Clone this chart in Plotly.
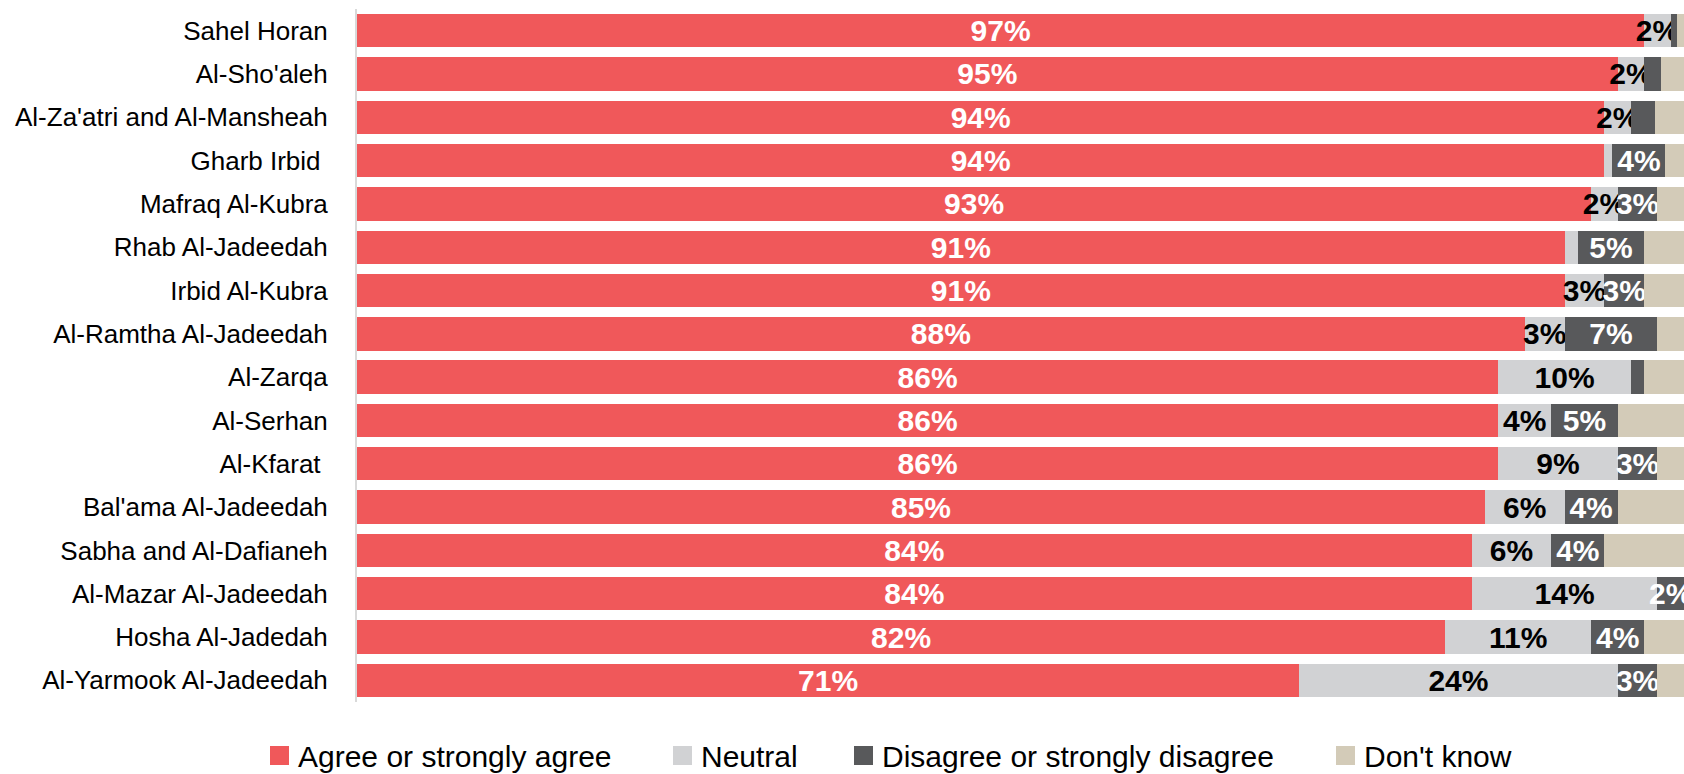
import plotly.graph_objects as go

# Survey results by municipality (percent of respondents)
municipalities = [
    "Sahel Horan", "Al-Sho'aleh", "Al-Za'atri and Al-Mansheah", "Gharb Irbid\u00a0",
    "Mafraq Al-Kubra", "Rhab Al-Jadeedah", "Irbid Al-Kubra", "Al-Ramtha Al-Jadeedah",
    "Al-Zarqa", "Al-Serhan", "Al-Kfarat\u00a0", "Bal'ama Al-Jadeedah",
    "Sabha and Al-Dafianeh", "Al-Mazar Al-Jadeedah", "Hosha Al-Jadedah",
    "Al-Yarmook Al-Jadeedah",
]
agree = [97, 95, 94, 94, 93, 91, 91, 88, 86, 86, 86, 85, 84, 84, 82, 71]
neutral = [2, 2, 2, 0.6, 2, 1, 3, 3, 10, 4, 9, 6, 6, 14, 11, 24]
disagree = [0.5, 1.3, 1.8, 4, 3, 5, 3, 7, 1, 5, 3, 4, 4, 2, 4, 3]
dont_know = [0.5, 1.7, 2.2, 1.4, 2, 3, 3, 2, 3, 5, 2, 5, 6, 0.7, 3, 2]

series_names = ["Agree or strongly agree", "Neutral",
                "Disagree or strongly disagree", "Don't know"]
series_values = [agree, neutral, disagree, dont_know]
series_colors = ["#F0585A", "#D1D2D4", "#58595B", "#D3CBB8"]
label_colors = ["white", "black", "white", "black"]
show_labels = [True, True, True, False]

FONT = "Liberation Sans, Arial, Helvetica, sans-serif"
W, H = 1684, 774
M_L, M_R, M_T, M_B = 357, 0, 9, 72


def label_text(values, show):
    if not show:
        return [""] * len(values)
    return [f"{v:.0f}%" if v >= 2 else "" for v in values]


fig = go.Figure()
for name, vals, color, tcolor, show in zip(series_names, series_values,
                                          series_colors, label_colors, show_labels):
    fig.add_trace(go.Bar(
        y=municipalities, x=vals, name=name, orientation="h",
        marker=dict(color=color, line=dict(width=0)),
        text=label_text(vals, show), textposition="inside",
        insidetextanchor="middle", constraintext="none", textangle=0,
        textfont=dict(family=FONT, size=30, color=tcolor, weight="bold"),
        hoverinfo="skip", showlegend=False,
    ))

# Legend drawn as swatches + labels under the plot
plot_w = W - M_L - M_R
plot_h = H - M_T - M_B


def px_x(x):
    return (x - M_L) / plot_w


def px_y(y):
    return (H - M_B - y) / plot_h


legend_swatch_x = [270, 673, 854, 1336]
swatch = 19
sw_top, sw_bot = 746, 765
shapes, annotations = [], []
for name, color, lx in zip(series_names, series_colors, legend_swatch_x):
    shapes.append(dict(type="rect", xref="paper", yref="paper",
                       x0=px_x(lx), x1=px_x(lx + swatch),
                       y0=px_y(sw_bot), y1=px_y(sw_top),
                       fillcolor=color, line=dict(width=0)))
    annotations.append(dict(xref="paper", yref="paper", x=px_x(lx + 26),
                            y=px_y((sw_top + sw_bot) / 2 + 1),
                            text=name, showarrow=False, xanchor="left",
                            yanchor="middle",
                            font=dict(family=FONT, size=30, color="black")))

fig.update_layout(
    barmode="stack", bargap=0.23,
    width=W, height=H,
    margin=dict(l=M_L, r=M_R, t=M_T, b=M_B, pad=0),
    plot_bgcolor="white", paper_bgcolor="white",
    shapes=shapes, annotations=annotations,
    showlegend=False,
)
fig.update_xaxes(range=[0, 100], showgrid=False, zeroline=False,
                 showticklabels=False, showline=False, fixedrange=True)
fig.update_yaxes(autorange="reversed", showgrid=False, zeroline=False,
                 showline=True, linecolor="#D9D9D9", linewidth=2,
                 ticks="", ticklabelstandoff=22,
                 tickfont=dict(family=FONT, size=26, color="black"))

fig.write_html("out.html")
